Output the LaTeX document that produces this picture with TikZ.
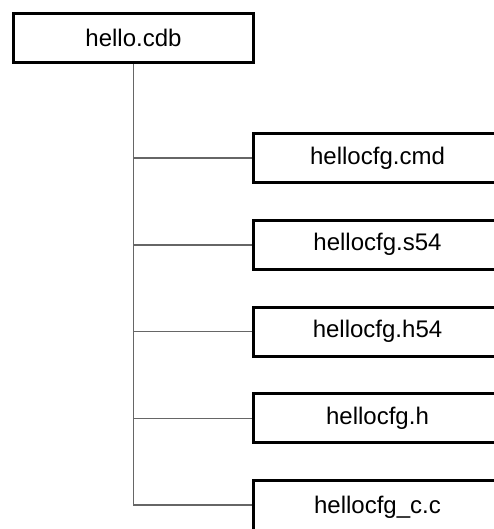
\documentclass[tikz,border=0pt]{standalone}
\usepackage{fontspec}
\setmainfont{Liberation Sans}

\begin{document}
\begin{tikzpicture}[x=0.5pt, y=-0.5pt,
  filebox/.style={draw, line width=1.5pt, fill=white, inner sep=0pt,
    minimum width=120pt, minimum height=24.5pt,
    font=\fontsize{12}{14}\selectfont},
  outbox/.style={filebox, minimum width=124pt},
  branch/.style={draw=black!60, line width=0.75pt}]

  \newcommand\FX{377.5};
  \newcommand\DY{86.75};

  \useasboundingbox (0,0) rectangle (493,529);

  %% the project file
  \node[filebox] (cdb) at (133.5, 38) {hello.cdb};

  %% generated files
  \node[outbox] (cmd) at (\FX, 158+0*\DY) {hellocfg.cmd};
  \node[outbox] (sfs) at (\FX, 158+1*\DY) {hellocfg.s54};
  \node[outbox] (hfs) at (\FX, 158+2*\DY) {hellocfg.h54};
  \node[outbox] (hdr) at (\FX, 158+3*\DY) {hellocfg.h};
  \node[outbox, minimum height=27pt] (csrc) at (\FX, 160.5+4*\DY) {hellocfg\_c.c};
  \coordinate (cend) at (csrc.west |- 0,{158+4*\DY}); % last box runs off the page

  %% tree lines
  \draw[branch] (cdb.south) |- (cend);
  \draw[branch] (cdb.south |- cmd.west) -- (cmd.west);
  \draw[branch] (cdb.south |- sfs.west) -- (sfs.west);
  \draw[branch] (cdb.south |- hfs.west) -- (hfs.west);
  \draw[branch] (cdb.south |- hdr.west) -- (hdr.west);
\end{tikzpicture}
\end{document}
